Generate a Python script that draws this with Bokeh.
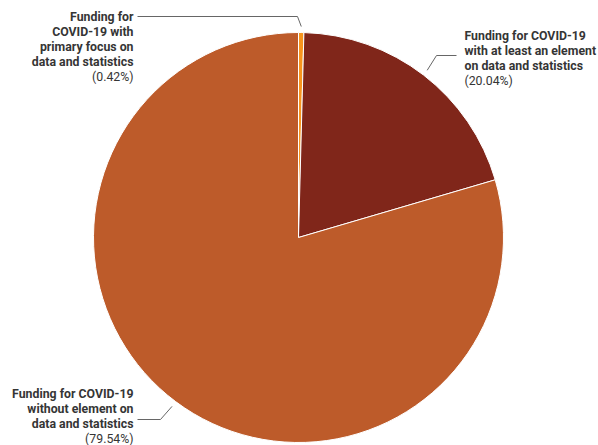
import math
from bokeh.plotting import figure
from bokeh.models import Range1d, ColumnDataSource
from bokeh.core.properties import value
from bokeh.embed import file_html
from bokeh.resources import INLINE

# ---- data ----
categories = [
    "Funding for COVID-19 with primary focus on data and statistics",
    "Funding for COVID-19 with at least an element on data and statistics",
    "Funding for COVID-19 without element on data and statistics",
]
shares = [0.42, 20.04, 79.54]
colors = ["#F7941D", "#80261A", "#BD5B2A"]
label_lines = [
    ["Funding for", "COVID-19 with", "primary focus on", "data and statistics"],
    ["Funding for COVID-19", "with at least an element", "on data and statistics"],
    ["Funding for COVID-19", "without element on", "data and statistics"],
]
pct_labels = ["(0.42%)", "(20.04%)", "(79.54%)"]

# ---- layout (screen pixels; y measured from top of window) ----
W, H = 598, 445
CX, CY, R = 298, 237, 205

def sy(y):  # screen y -> data y
    return H - y

label_layout = [
    dict(x=133, y=16, align="right", elbow=(297, 16), end=(137, 16)),
    dict(x=464, y=35, align="left", elbow=(436, 55), end=(456, 55)),
    dict(x=133, y=393, align="right", elbow=(160, 419), end=(137, 419)),
]

p = figure(width=W, height=H, output_backend="svg",
           toolbar_location=None, min_border=0,
           x_range=Range1d(0, W), y_range=Range1d(0, H))
p.axis.visible = False
p.grid.visible = False
p.outline_line_color = None
p.background_fill_color = "white"

total = sum(shares)
cum = 0.0
starts, ends, mids = [], [], []
for s in shares:
    a0 = cum / total
    cum += s
    a1 = cum / total
    starts.append(math.pi / 2 - a1 * 2 * math.pi)
    ends.append(math.pi / 2 - a0 * 2 * math.pi)
    mids.append((a0 + a1) / 2 * 2 * math.pi)

src = ColumnDataSource(dict(x=[CX] * 3, y=[sy(CY)] * 3, start=starts, end=ends,
                            color=colors, cat=categories))
p.wedge(x="x", y="y", radius=R, start_angle="start", end_angle="end",
        fill_color="color", line_color="white", line_width=1, source=src)

TEXT_COLOR = "#353535"
LH = 15
FS = "12.3px"
for i, lay in enumerate(label_layout):
    th = mids[i]
    x0 = CX + (R + 6) * math.sin(th)
    y0 = sy(CY) + (R + 6) * math.cos(th)
    ex, ey = lay["elbow"]
    nx, ny = lay["end"]
    p.line([x0, ex, nx], [y0, sy(ey), sy(ny)], line_color="#666666", line_width=1)
    lines = label_lines[i]
    ys = [sy(lay["y"] + k * LH) for k in range(len(lines))]
    p.text(x=[lay["x"]] * len(lines), y=ys, text=lines,
           text_font=value("Roboto"), text_font_style="bold",
           text_font_size=FS, text_color=TEXT_COLOR,
           text_align=lay["align"], text_baseline="middle")
    p.text(x=[lay["x"]], y=[sy(lay["y"] + len(lines) * LH)], text=[pct_labels[i]],
           text_font=value("Roboto"), text_font_style="normal",
           text_font_size=FS, text_color=TEXT_COLOR,
           text_align=lay["align"], text_baseline="middle")

open("out.html", "w").write(file_html(p, INLINE))
